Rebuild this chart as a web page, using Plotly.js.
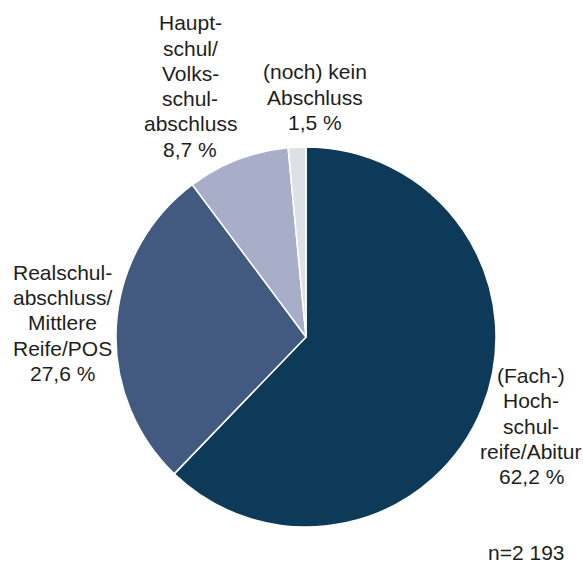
<!DOCTYPE html>
<html>
<head>
<meta charset="utf-8">
<script src="https://cdn.plot.ly/plotly-3.0.1.min.js"></script>
<style>html,body{margin:0;padding:0;background:#fff;}#chart{width:583px;height:566px;}</style>
</head>
<body>
<div id="chart"></div>
<script>
const categories = ["(Fach-)Hochschulreife/Abitur", "Realschulabschluss/Mittlere Reife/POS", "Haupt-/Volksschulabschluss", "(noch) kein Abschluss"];
const labelLines = [
  ["(Fach-)", "Hoch-", "schul-", "reife/Abitur"],
  ["Realschul-", "abschluss/", "Mittlere", "Reife/POS"],
  ["Haupt-", "schul/", "Volks-", "schul-", "abschluss"],
  ["(noch) kein", "Abschluss"]
];
const shares = [62.2, 27.6, 8.7, 1.5];
const colors = ["#0d3a58", "#425a80", "#a8aec7", "#dde0e4"];
const sampleNote = "n=2 193";

const W = 583, H = 566;
// label block centre positions (pixels)
const labelPos = [[531, 426], [62, 323], [190, 86], [315, 97]];
const lineStep = 25.2;

const fmt = v => v.toFixed(1).replace(".", ",") + " %";
const font = {family: "Liberation Sans, Arial, sans-serif", size: 21, color: "#1e1e1e"};

const annotations = [];
categories.forEach((c, i) => {
  const lines = labelLines[i].concat([fmt(shares[i])]);
  const n = lines.length;
  lines.forEach((t, k) => {
    const py = labelPos[i][1] + (k - (n - 1) / 2) * lineStep;
    annotations.push({
      text: t, xref: "paper", yref: "paper",
      x: labelPos[i][0] / W, y: 1 - py / H,
      xanchor: "center", yanchor: "middle", align: "center",
      showarrow: false, font: font
    });
  });
});
annotations.push({
  text: sampleNote, xref: "paper", yref: "paper",
  x: 526 / W, y: 1 - 552 / H, xanchor: "center", yanchor: "middle",
  showarrow: false, font: font
});

const cx = 306, cy = 337, r = 190;
const trace = {
  type: "pie",
  labels: categories,
  values: shares,
  sort: false,
  direction: "clockwise",
  rotation: 0,
  textinfo: "none",
  hoverinfo: "label+percent",
  marker: {colors: colors, line: {color: "#ffffff", width: 1.5}},
  domain: {x: [(cx - r) / W, (cx + r) / W], y: [1 - (cy + r) / H, 1 - (cy - r) / H]},
  showlegend: false
};

Plotly.newPlot("chart", [trace], {
  width: W, height: H,
  margin: {l: 0, r: 0, t: 0, b: 0},
  paper_bgcolor: "#ffffff",
  showlegend: false,
  annotations: annotations
}, {displayModeBar: false, staticPlot: true});
</script>
</body>
</html>
